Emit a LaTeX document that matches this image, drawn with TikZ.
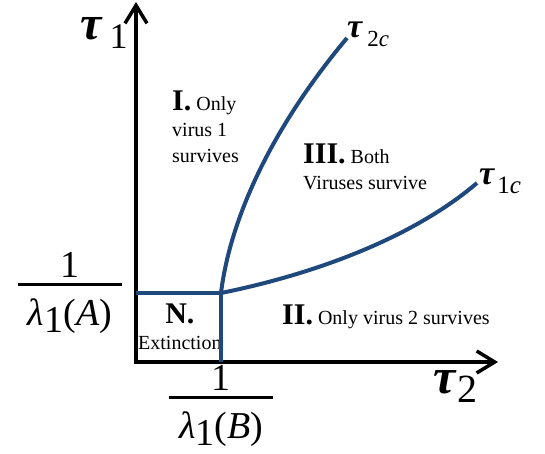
\documentclass[tikz,border=0pt]{standalone}
\usepackage{fontspec}
\setmainfont{Liberation Serif}
\usetikzlibrary{arrows.meta}
\definecolor{phaseblue}{RGB}{31,73,125}
\newcommand{\tsub}[4]{{\fontsize{#1}{#1}\selectfont\bfseries\itshape τ}\kern#3\raisebox{-9pt}{\fontsize{#2}{#2}\selectfont #4}}
\newcommand{\rnum}[1]{{\fontsize{30}{30}\selectfont\bfseries #1.}}
\newcommand{\recip}[2]{\vbox{\halign{\hfil##\hfil\cr 1\cr\noalign{\kern6pt\hrule height 3pt\kern12pt}\kern#1#2\kern#1\cr}}}

\begin{document}
\begin{tikzpicture}[x=1pt,y=-1pt,
  axis/.style={line width=3.5pt,{Straight Barb[length=18pt,width=22pt]}-{Straight Barb[length=18pt,width=22pt]}},
  phase/.style={phaseblue,line width=4pt},
  region/.style={inner sep=0pt,font=\fontsize{20}{26}\selectfont},
  tlab/.style={inner sep=0pt,anchor=base west},
  frac/.style={inner sep=0pt,anchor=base,font=\fontsize{38}{38}\selectfont}]
\useasboundingbox (0,0) rectangle (545,453);
% axes
\coordinate (O) at (136,362);
\coordinate (ytop) at (136,2);
\coordinate (xend) at (498,362);
\draw[axis] (ytop) -- (O) -- (xend);
\node[tlab] (tau1) at (80,39) {\tsub{48}{36}{8pt}{1}};
\node[tlab] (tau2) at (433,393) {\tsub{50}{40}{2pt}{2}};
\node[frac] (invA) at (70,325) {\recip{10pt}{{\itshape λ}\raisebox{-7pt}{1}(\textit{A})}};
\node[frac] (invB) at (221,438) {\recip{10pt}{{\itshape λ}\raisebox{-7pt}{1}(\textit{B})}};
% regions
\node[region,anchor=north west,align=left] (regI) at (172,91) {\rnum{I} Only\\virus 1\\survives};
\node[region,anchor=north west,align=left] (regIII) at (303,144) {\rnum{III} Both\\Viruses survive};
\node[region,anchor=base west] (regII) at (282,324) {\rnum{II} Only virus 2 survives};
\node[region,anchor=north west,align=center] (regN) at (138,304) {\rnum{N}\\Extinction};
% boundaries
\coordinate (P) at (221,293);
\coordinate (c2) at (347,38);
\coordinate (c1) at (477,183);
\draw[phase] (O |- P) -- (P) -- (P |- O);
\draw[phase] (P) .. controls (230,220) and (270,130) .. (c2);
\draw[phase] (P) .. controls (310,275) and (410,240) .. (c1);
\node[tlab] (tau2c) at (347,37) {\tsub{34}{23}{5pt}{2\textit{c}}};
\node[tlab] (tau1c) at (479,184) {\tsub{34}{25}{3pt}{1\textit{c}}};
\end{tikzpicture}
\end{document}
